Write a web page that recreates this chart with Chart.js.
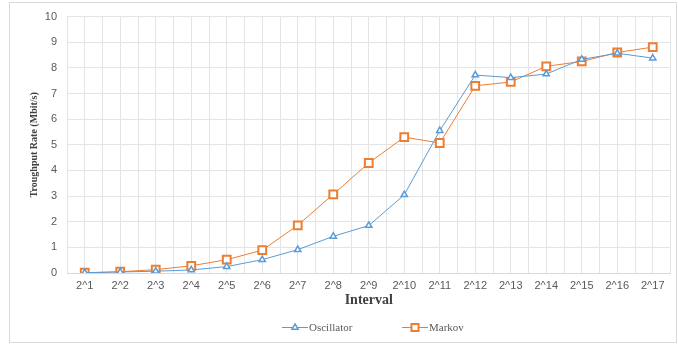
<!DOCTYPE html>
<html>
<head>
<meta charset="utf-8">
<script src="https://cdn.jsdelivr.net/npm/chart.js@4.4.1/dist/chart.umd.min.js"></script>
<style>
  html, body { margin: 0; padding: 0; background: #ffffff; }
  #wrap { position: relative; width: 678px; height: 344px; }
  #frame { position: absolute; left: 9px; top: 2px; width: 666px; height: 339px; border: 1px solid #d9d9d9; pointer-events: none; }
  canvas { position: absolute; left: 0; top: 0; }
</style>
</head>
<body>
<div id="wrap">
  <canvas id="chart" width="678" height="344"></canvas>
  <div id="frame"></div>
</div>
<script>
// Interval sizes on the x axis
const intervals = ['2^1','2^2','2^3','2^4','2^5','2^6','2^7','2^8','2^9','2^10','2^11','2^12','2^13','2^14','2^15','2^16','2^17'];

// Throughput (Mbit/s) per interval
const oscillator = [0.01, 0.04, 0.07, 0.12, 0.25, 0.52, 0.91, 1.43, 1.85, 3.05, 5.55, 7.72, 7.62, 7.76, 8.33, 8.57, 8.38];
const markov     = [0.01, 0.05, 0.13, 0.28, 0.52, 0.89, 1.86, 3.07, 4.29, 5.3, 5.07, 7.3, 7.45, 8.06, 8.25, 8.6, 8.81];

const seriesNames = ['Oscillator', 'Markov'];
const yTicks = [0, 1, 2, 3, 4, 5, 6, 7, 8, 9, 10];

const BLUE = '#5b9bd5';
const ORANGE = '#ed7d31';
const GRID = '#e4e4e4';
const TEXT = '#595959';

// Legend under the axis title: a short line with the series marker, then its name
const lineLegend = {
  id: 'lineLegend',
  afterDraw(chart) {
    const ctx = chart.ctx;
    const y = 327;
    const starts = [282, 402];
    ctx.save();
    chart.data.datasets.forEach((ds, i) => {
      const x0 = starts[i];
      ctx.strokeStyle = ds.borderColor;
      ctx.lineWidth = 1;
      ctx.beginPath();
      ctx.moveTo(x0, y + 0.5);
      ctx.lineTo(x0 + 26, y + 0.5);
      ctx.stroke();
      ctx.fillStyle = '#ffffff';
      ctx.strokeStyle = ds.pointBorderColor;
      ctx.lineWidth = ds.pointBorderWidth;
      Chart.helpers.drawPoint(ctx, {
        pointStyle: ds.pointStyle,
        radius: ds.pointStyle === 'rect' ? 5 : 3.6,
        borderWidth: ds.pointBorderWidth,
        rotation: 0
      }, x0 + 13, y + 0.5);
      ctx.fillStyle = TEXT;
      ctx.font = '11px "Liberation Serif", serif';
      ctx.textBaseline = 'middle';
      ctx.textAlign = 'left';
      ctx.fillText(ds.label, x0 + 27, y + 1);
    });
    ctx.restore();
  }
};

const chart = new Chart(document.getElementById('chart'), {
  type: 'line',
  data: {
    labels: intervals,
    datasets: [
      {
        label: seriesNames[0],
        data: oscillator,
        borderColor: BLUE,
        borderWidth: 1,
        pointStyle: 'triangle',
        pointRadius: 3.6,
        pointBorderWidth: 1.5,
        pointBorderColor: BLUE,
        pointBackgroundColor: '#ffffff',
        tension: 0
      },
      {
        label: seriesNames[1],
        data: markov,
        borderColor: ORANGE,
        borderWidth: 1,
        pointStyle: 'rect',
        pointRadius: 5.5,
        pointBorderWidth: 2,
        pointBorderColor: ORANGE,
        pointBackgroundColor: '#ffffff',
        tension: 0
      }
    ]
  },
  options: {
    responsive: false,
    animation: false,
    devicePixelRatio: 1,
    layout: { padding: { left: 0, right: 3, top: -2, bottom: 0 } },
    plugins: {
      legend: { display: false },
      tooltip: { enabled: false }
    },
    scales: {
      x: {
        type: 'category',
        offset: true,
        grid: { color: GRID, offset: false, drawTicks: false },
        border: { color: '#d9d9d9' },
        ticks: {
          color: TEXT,
          font: { family: '"Liberation Sans", sans-serif', size: 11 },
          padding: 6,
          maxRotation: 0,
          autoSkip: false
        },
        title: {
          display: true,
          text: 'Interval',
          color: '#404040',
          font: { family: '"Liberation Serif", serif', size: 14, weight: 'bold' },
          padding: { top: 2, bottom: 35 }
        },
        afterFit(scale) { scale.height = 71; }
      },
      xb: {
        type: 'category',
        position: 'top',
        offset: true,
        labels: intervals,
        grid: { color: GRID, offset: true, drawTicks: false },
        border: { display: false },
        ticks: { display: false },
        afterFit(scale) { scale.height = 10; }
      },
      y: {
        min: 0,
        max: 10,
        afterBuildTicks(scale) { scale.ticks = yTicks.map(v => ({ value: v })); },
        grid: { color: GRID, drawTicks: false },
        border: { display: false },
        ticks: {
          color: TEXT,
          font: { family: '"Liberation Sans", sans-serif', size: 11 },
          padding: 10
        },
        title: {
          display: true,
          text: 'Troughput Rate (Mbit/s)',
          color: '#404040',
          font: { family: '"Liberation Serif", serif', size: 10, weight: 'bold' },
          padding: { top: 28, bottom: 0 }
        },
        afterFit(scale) { scale.width = 67; }
      }
    }
  },
  plugins: [lineLegend]
});
</script>
</body>
</html>
